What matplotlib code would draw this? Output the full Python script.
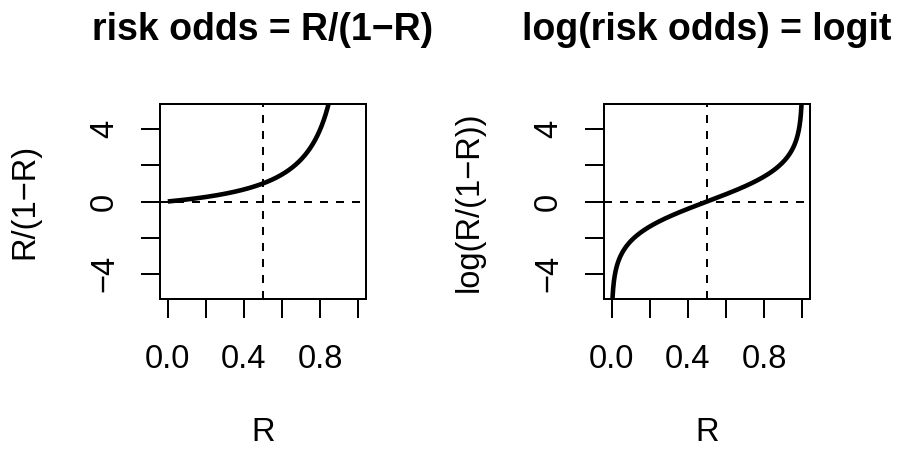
import matplotlib
matplotlib.use("Agg")
import matplotlib.pyplot as plt
import numpy as np

plt.rcParams["font.family"] = ["Liberation Sans", "DejaVu Sans"]

# Risk grid and the two transforms shown
R = np.linspace(0.001, 0.999, 999)
risk_odds = R / (1 - R)
log_odds = np.log(risk_odds)

titles = ["risk odds = R/(1\u2212R)", "log(risk odds) = logit"]
ylabels = ["R/(1\u2212R)", "log(R/(1\u2212R))"]
series = [risk_odds, log_odds]

x_ticks = [0.0, 0.2, 0.4, 0.6, 0.8, 1.0]
x_ticklabels = ["0.0", "", "0.4", "", "0.8", ""]
y_ticks = [-4, -2, 0, 2, 4]
y_ticklabels = ["\u22124", "", "0", "", "4"]

fig = plt.figure(figsize=(8.97, 4.49), dpi=100)

lefts = [160 / 897, 604 / 897]
bottom = (449 - 299) / 449
width = 206 / 897
height = 195 / 449

for left, title, ylab, y in zip(lefts, titles, ylabels, series):
    ax = fig.add_axes([left, bottom, width, height])
    ax.plot(R, y, color="black", linewidth=3.3, solid_capstyle="butt")
    ax.axvline(0.5, color="black", linewidth=1.44, dashes=(4, 4))
    ax.axhline(0, color="black", linewidth=1.44, dashes=(4, 4))

    ax.set_xlim(-0.04, 1.04)
    ax.set_ylim(-5.4, 5.4)

    ax.set_xticks(x_ticks)
    ax.set_xticklabels(x_ticklabels)
    ax.set_yticks(y_ticks)
    ax.set_yticklabels(y_ticklabels, rotation=90, va="center")

    ax.tick_params(direction="out", length=13.7, width=1.44, labelsize=23.5,
                   color="black")
    ax.tick_params(axis="x", pad=19)
    ax.tick_params(axis="y", pad=15)
    for s in ax.spines.values():
        s.set_linewidth(1.44)

    ax.set_title(title, fontsize=27, fontweight="bold", pad=46)
    ax.set_xlabel("R", fontsize=23.5, labelpad=30)
    ax.set_ylabel(ylab, fontsize=23.5, labelpad=35)

fig.savefig("out.png", dpi=100)
